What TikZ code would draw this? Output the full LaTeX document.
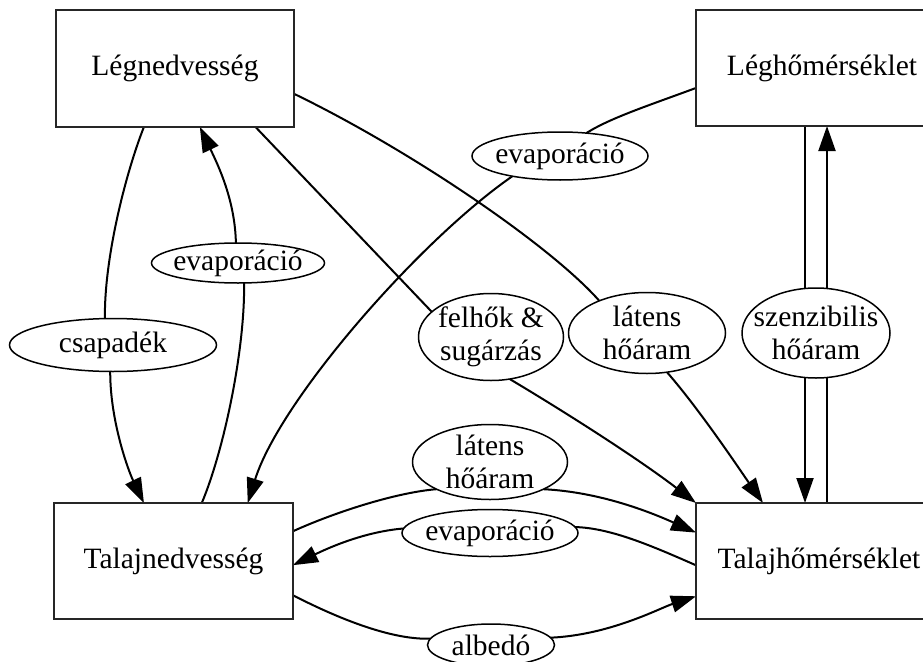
\documentclass[tikz,border=0pt]{standalone}
\usepackage{fontspec}
\setmainfont{Liberation Serif}
\usetikzlibrary{shapes.geometric,arrows.meta,calc}
\pgfdeclarelayer{bg}
\pgfsetlayers{bg,main}
\begin{document}
\begin{tikzpicture}[x=1pt,y=-1pt,
  box/.style={draw=black!85,line width=2.2pt,rectangle,inner sep=0pt,outer sep=0pt,font=\fontsize{29.5}{33}\selectfont},
  lab/.style={draw=black,line width=1.5pt,fill=white,ellipse,inner sep=0pt,outer sep=0pt},
  ltxt/.style={font=\fontsize{29.5}{33}\selectfont,align=center,inner sep=0pt},
  edge/.style={line width=2pt,draw=black},
  arr/.style={edge,-{Triangle[length=25pt,width=17pt]}}]
\useasboundingbox (0,0) rectangle (923,661);
\clip (0,0) rectangle (923,661);
% boxes
\node[box,minimum width=238pt,minimum height=117pt] (LN) at (175,68.5) {Légnedvesség};
\node[box,minimum width=252pt,minimum height=116pt] (LH) at (822,68) {Léghőmérséklet};
\node[box,minimum width=239pt,minimum height=116pt] (TN) at (173.5,561) {Talajnedvesség};
\node[box,minimum width=246pt,minimum height=116pt] (TH) at (819,561) {Talajhőmérséklet};
% label ellipses
\node[lab,minimum width=207pt,minimum height=53pt] (csap) at (113,345) {};
\node[ltxt] (csapT) at (csap) {csapadék};
\node[lab,minimum width=173pt,minimum height=40pt] (evL) at (238,263) {};
\node[ltxt] (evLT) at (evL) {evaporáció};
\node[lab,minimum width=176pt,minimum height=48pt] (evT) at (560,156) {};
\node[ltxt] (evTT) at (evT) {evaporáció};
\node[lab,minimum width=145pt,minimum height=87pt] (felh) at (491,337) {};
\node[ltxt] (felhT) at (felh) {felhők \&\\sugárzás};
\node[lab,minimum width=157pt,minimum height=81pt] (latM) at (647,333) {};
\node[ltxt] (latMT) at (latM) {látens\\hőáram};
\node[lab,minimum width=148pt,minimum height=90pt] (szen) at (816,333) {};
\node[ltxt] (szenT) at (szen) {szenzibilis\\hőáram};
\node[lab,minimum width=155pt,minimum height=75pt] (latB) at (490,462) {};
\node[ltxt] (latBT) at (latB) {látens\\hőáram};
\node[lab,minimum width=176pt,minimum height=47pt] (evB) at (490,533) {};
\node[ltxt] (evBT) at (evB) {evaporáció};
\node[lab,minimum width=127pt,minimum height=42pt] (alb) at (491,645) {};
\node[ltxt] (albT) at (alb) {albedó};
\coordinate (dn) at (805,0);
\coordinate (up) at (827,0);
\begin{pgfonlayer}{bg}
\fill[white] (0,0) rectangle (923,661);
\draw[edge] (LN.242) .. controls (125,175) and (104,260) .. (csap.107);
\draw[arr] (csap.264) .. controls (110,420) and (128,470) .. (TN.117);
\draw[edge] (TN.64) .. controls (224,450) and (245,350) .. (evL.287);
\draw[arr] (evL.96) .. controls (235,200) and (218,165) .. (LN.293);
\draw[edge] (LH.189) .. controls (650,105) and (610,118) .. (evT.41);
\draw[arr] (evT.203) .. controls (420,240) and (280,400) .. (TN.38);
\draw[edge] (LN.324) -- (felh.157);
\draw[arr] (felh.294) .. controls (570,415) and (640,460) .. (TH.north west);
\draw[edge] (LN.348) .. controls (410,150) and (550,245) .. (latM.146);
\draw[arr] (latM.297) .. controls (700,410) and (740,470) .. (TH.134);
\draw[arr] (LH.south -| dn) -- (TH.north -| dn);
\draw[arr] (TH.north -| up) -- (LH.south -| up);
\draw[edge] (TN.14) .. controls (340,510) and (400,492) .. (latB.207);
\draw[arr] (latB.333) .. controls (600,492) and (650,512) .. (TH.167);
\draw[edge] (TH.182) .. controls (650,545) and (610,528) .. (evB.4);
\draw[arr] (evB.177) .. controls (360,532) and (320,552) .. (TN.358);
\draw[edge] (TN.344) .. controls (345,622) and (395,640) .. (alb.174);
\draw[arr] (alb.7) .. controls (610,635) and (660,608) .. (TH.196);
\end{pgfonlayer}
\end{tikzpicture}
\end{document}
